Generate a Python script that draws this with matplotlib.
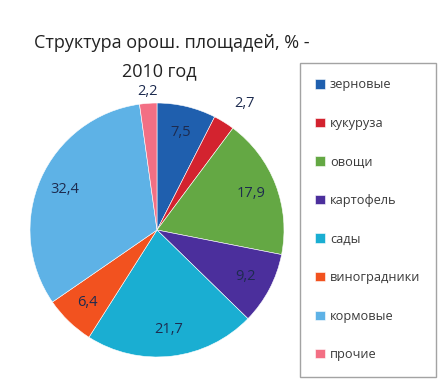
import numpy as np
import matplotlib
matplotlib.use("Agg")
import matplotlib.pyplot as plt

plt.rcParams['font.family'] = ['Open Sans', 'DejaVu Sans']

# data (2010, % of irrigated area)
categories = ['зерновые', 'кукуруза', 'овощи', 'картофель', 'сады',
              'виноградники', 'кормовые', 'прочие']
shares = [7.5, 2.7, 17.9, 9.2, 21.7, 6.4, 32.4, 2.2]
value_labels = ['7,5', '2,7', '17,9', '9,2', '21,7', '6,4', '32,4', '2,2']
colors = ['#1f5fae', '#d3232f', '#64a844', '#4b2f9c', '#1aaed2',
          '#f2521f', '#5eb2e6', '#f36f84']

fig = plt.figure(figsize=(4.39, 3.83), dpi=100)
# pie centre ~ (157, 230) px, radius ~127 px
ax = fig.add_axes([30 / 439, 26 / 383, 254 / 439, 254 / 383])

wedges, _ = ax.pie(shares, colors=colors, startangle=90, counterclock=False,
                   wedgeprops=dict(edgecolor='white', linewidth=0.4))
ax.set_xlim(-1, 1)
ax.set_ylim(-1, 1)
ax.set_aspect('equal')
for w in wedges:
    w.set_clip_on(False)

# data labels, the two small slices get theirs outside the pie
outer = {'2,7': (1.21, -3), '2,2': (1.09, 0)}
for w, lab in zip(wedges, value_labels):
    r, dang = outer.get(lab, (0.79, 0))
    ang = np.deg2rad((w.theta1 + w.theta2) / 2 + dang)
    ax.text(r * np.cos(ang), r * np.sin(ang), lab, ha='center', va='center',
            fontsize=10.5, color='#1d2b4f', clip_on=False)

fig.text(172 / 439, 1 - 43 / 383, 'Структура орош. площадей, % -',
         ha='center', va='center', fontsize=13, color='#222222')
fig.text(159 / 439, 1 - 71 / 383, '2010 год', ha='center', va='center',
         fontsize=13, color='#222222')

leg = fig.legend(wedges, categories, loc='upper left',
                 bbox_to_anchor=(300 / 439, 1 - 63 / 383),
                 frameon=True, fancybox=False, fontsize=9.2,
                 handlelength=0.75, handleheight=0.75, handletextpad=0.4,
                 labelspacing=2.0, borderpad=1.2, borderaxespad=0)
leg.get_frame().set_edgecolor('#8c8c8c')
leg.get_frame().set_linewidth(1.0)
for t in leg.get_texts():
    t.set_color('#3a3a3a')

fig.savefig('out.png', dpi=100)
